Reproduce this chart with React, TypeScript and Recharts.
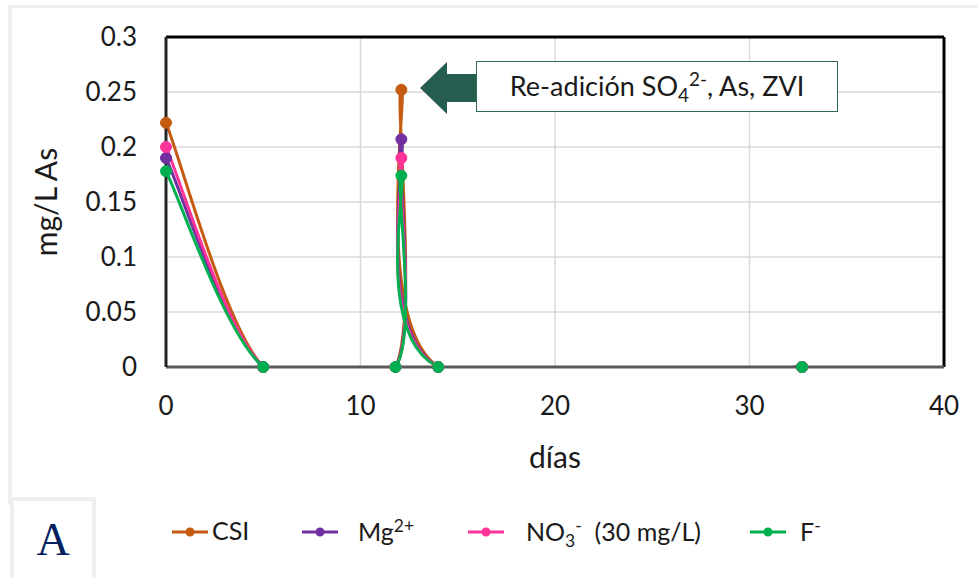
import React from "react"
import { LineChart, Line, XAxis, YAxis, CartesianGrid, ReferenceLine } from "recharts"

// sampling days and arsenic readings (mg/L) per treatment
const dias = [0, 5, 11.8, 12.1, 14, 32.7]
const csi = [0.222, 0, 0, 0.252, 0, 0]
const mg = [0.19, 0, 0, 0.207, 0, 0]
const no3 = [0.2, 0, 0, 0.19, 0, 0]
const fluor = [0.178, 0, 0, 0.174, 0, 0]

const xTicks = [0, 10, 20, 30, 40]
const yTicks = [0, 0.05, 0.1, 0.15, 0.2, 0.25, 0.3]

const data = dias.map((d, i) => ({
  dia: d,
  csi: csi[i],
  mg: mg[i],
  no3: no3[i],
  f: fluor[i],
}))

const sup = { fontSize: "0.7em" }

const series = [
  { key: "csi", color: "#c55a11", label: <>CSI</> },
  { key: "mg", color: "#7030a0", label: <>Mg<sup style={sup}>2+</sup></> },
  {
    key: "no3",
    color: "#ff3399",
    label: (
      <>
        NO<sub style={sup}>3</sub>
        <sup style={sup}>-</sup>&nbsp; (30 mg/L)
      </>
    ),
  },
  { key: "f", color: "#00b050", label: <>F<sup style={sup}>-</sup></> },
]

// legend slots: where each swatch and its text start
const legendIcon = [172, 302, 468, 750]
const legendText = [212, 358, 526, 800]

// spreadsheet-style smoothed line (uniform Catmull-Rom through every point)
function smoothCurve(context: any) {
  let pts: number[][] = []
  return {
    areaStart() {},
    areaEnd() {},
    lineStart() {
      pts = []
    },
    lineEnd() {
      if (!pts.length) return
      context.moveTo(pts[0][0], pts[0][1])
      for (let i = 0; i < pts.length - 1; i++) {
        const p0 = pts[i - 1] || pts[i]
        const p1 = pts[i]
        const p2 = pts[i + 1]
        const p3 = pts[i + 2] || pts[i + 1]
        context.bezierCurveTo(
          p1[0] + (p2[0] - p0[0]) / 6,
          p1[1] + (p2[1] - p0[1]) / 6,
          p2[0] - (p3[0] - p1[0]) / 6,
          p2[1] - (p3[1] - p1[1]) / 6,
          p2[0],
          p2[1]
        )
      }
    },
    point(x: number, y: number) {
      pts.push([+x, +y])
    },
  }
}

const font = "Lato, 'Open Sans', sans-serif"
const tickStyle = { fill: "#1a1a1a", fontSize: 26, fontFamily: font }

export default function App() {
  return (
    <div style={{ position: "absolute", left: 0, top: 0, width: 978, height: 578, background: "#fff", overflow: "hidden" }}>
      {/* light frame around the chart */}
      <div style={{ position: "absolute", left: 8, top: 5, width: 970, height: 3, background: "#efefef" }} />
      <div style={{ position: "absolute", left: 8, top: 5, width: 4, height: 500, background: "#efefef" }} />

      <LineChart
        width={978}
        height={578}
        data={data}
        margin={{ top: 37, right: 34, left: 20, bottom: 106 }}
      >
        <CartesianGrid stroke="#d9d9d9" strokeWidth={1.5} />
        <XAxis
          dataKey="dia"
          type="number"
          domain={[0, 40]}
          allowDataOverflow
          ticks={xTicks}
          tick={tickStyle}
          tickLine={false}
          tickSize={0}
          tickMargin={30}
          height={105}
          axisLine={{ stroke: "#595959", strokeWidth: 3 }}
          label={{ value: "días", position: "insideBottom", offset: 4, style: { ...tickStyle, fontSize: 30 } }}
        />
        <YAxis
          type="number"
          domain={[0, 0.3]}
          allowDataOverflow
          ticks={yTicks}
          tick={tickStyle}
          tickLine={false}
          tickSize={0}
          tickMargin={29}
          width={146}
          axisLine={{ stroke: "#262626", strokeWidth: 3 }}
          label={{ value: "mg/L As", angle: -90, position: "insideLeft", offset: 26, style: { ...tickStyle, fontSize: 30, textAnchor: "middle" } }}
        />
        <ReferenceLine y={0.3} stroke="#000" strokeWidth={3} />
        <ReferenceLine x={40} stroke="#000" strokeWidth={3} />
        {series.map((s) => (
          <Line
            key={s.key}
            dataKey={s.key}
            type={smoothCurve as any}
            stroke={s.color}
            strokeWidth={3}
            dot={{ r: 5.5, fill: s.color, stroke: s.color, strokeWidth: 1, clipDot: false } as any}
            activeDot={false}
            isAnimationActive={false}
          />
        ))}
      </LineChart>

      {/* annotation arrow + box */}
      <svg style={{ position: "absolute", left: 0, top: 0 }} width={978} height={578} pointerEvents="none">
        <polygon points="420,88 447,62 447,74 477,74 477,102 447,102 447,114" fill="#255e4f" />
      </svg>
      <div
        style={{
          position: "absolute",
          left: 476,
          top: 61,
          width: 362,
          height: 51,
          border: "1.5px solid #2e6b57",
          background: "#fff",
          boxSizing: "border-box",
          display: "flex",
          alignItems: "center",
          justifyContent: "center",
          fontFamily: font,
          fontSize: 27,
          color: "#1a1a1a",
          whiteSpace: "nowrap",
        }}
      >
        <span>
          Re-adición SO<sub style={sup}>4</sub>
          <sup style={sup}>2-</sup>, As, ZVI
        </span>
      </div>

      {/* panel letter */}
      <div
        style={{
          position: "absolute",
          left: 10,
          top: 497,
          width: 86,
          height: 90,
          border: "4px solid #efefef",
          boxSizing: "border-box",
          background: "#fff",
          display: "flex",
          justifyContent: "center",
          alignItems: "center",
          fontFamily: "'Liberation Serif', 'DejaVu Serif', serif",
          fontSize: 46,
          color: "#002060",
          paddingBottom: 6,
        }}
      >
        A
      </div>

      {/* legend */}
      {series.map((s, i) => (
        <React.Fragment key={s.key}>
          <svg width={36} height={14} style={{ position: "absolute", left: legendIcon[i], top: 525 }}>
            <line x1={0} y1={7} x2={36} y2={7} stroke={s.color} strokeWidth={3} />
            <circle cx={18} cy={7} r={4.5} fill={s.color} />
          </svg>
          <span
            style={{
              position: "absolute",
              left: legendText[i],
              top: 515,
              fontFamily: font,
              fontSize: 25,
              color: "#1a1a1a",
              whiteSpace: "nowrap",
            }}
          >
            {s.label}
          </span>
        </React.Fragment>
      ))}
    </div>
  )
}
